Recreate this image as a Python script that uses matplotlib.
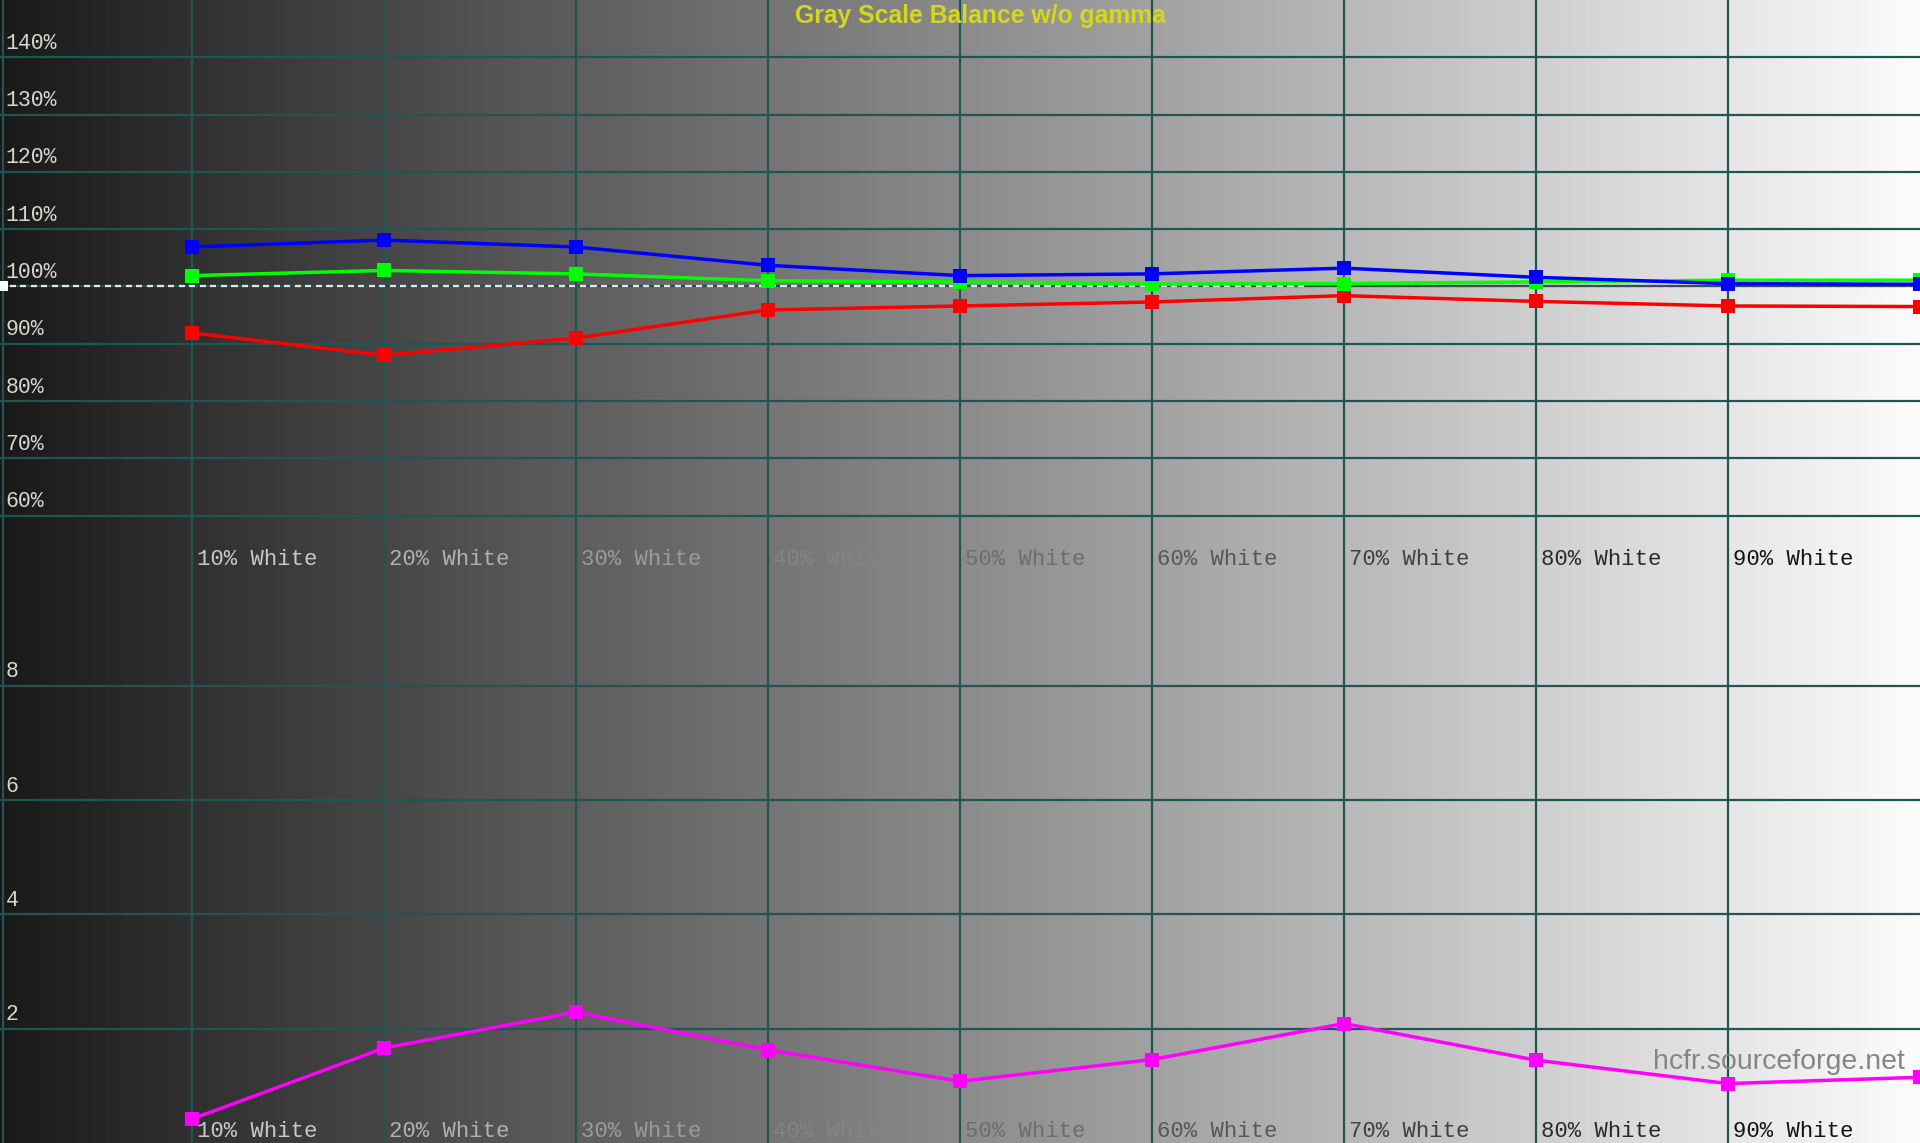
import numpy as np
import matplotlib
matplotlib.use("Agg")
import matplotlib.pyplot as plt
from matplotlib.collections import LineCollection

# ---- data ----
levels = [10, 20, 30, 40, 50, 60, 70, 80, 90, 100]
level_labels = ["10% White", "20% White", "30% White", "40% White", "50% White",
                "60% White", "70% White", "80% White", "90% White"]
label_positions = [10, 20, 30, 40, 50, 60, 70, 80, 90]
red = [91.9, 88.0, 91.0, 95.9, 96.6, 97.3, 98.4, 97.4, 96.6, 96.5]
green = [101.9, 102.8, 102.2, 101.0, 100.8, 100.4, 100.5, 100.8, 101.1, 101.1]
blue = [106.9, 108.1, 106.9, 103.7, 101.9, 102.2, 103.2, 101.6, 100.5, 100.4]
delta_e = [0.42, 1.66, 2.29, 1.63, 1.08, 1.46, 2.09, 1.45, 1.04, 1.15]
top_ticks = [60, 70, 80, 90, 100, 110, 120, 130, 140]
top_tick_labels = ["60%", "70%", "80%", "90%", "100%", "110%", "120%", "130%", "140%"]
bottom_ticks = [2, 4, 6, 8]
bottom_tick_labels = ["2", "4", "6", "8"]
title = "Gray Scale Balance w/o gamma"
watermark = "hcfr.sourceforge.net"

BG0, BG1 = 0.10, 0.985
GRID = "#215454"
MONO = "Liberation Mono"


def bg(x):
    return BG0 + (BG1 - BG0) * (x / 100.0)


def inv(x):
    g = 1.0 - bg(x)
    return (g, g, g)


fig = plt.figure(figsize=(19.2, 11.43), dpi=100)
ax_top = fig.add_axes([0, 0.4987, 1, 0.5013])
ax_bot = fig.add_axes([0, 0, 1, 0.5])

grad = np.linspace(BG0, BG1, 512)[None, :]
for ax, (y0, y1) in ((ax_top, (50, 150)), (ax_bot, (0, 10))):
    ax.imshow(grad, cmap="gray", vmin=0, vmax=1, extent=[0, 100, y0, y1],
              aspect="auto", zorder=0, interpolation="bilinear")
    ax.set_xlim(0, 100)
    ax.set_ylim(y0, y1)
    ax.axis("off")
    for xv in [0] + label_positions:
        ax.axvline(xv + (0.15 if xv == 0 else 0), color=GRID, lw=1.6, zorder=1)

for yv in top_ticks:
    ax_top.axhline(yv, color=GRID, lw=1.6, zorder=1)
for yv in bottom_ticks:
    ax_bot.axhline(yv, color=GRID, lw=1.6, zorder=1)

# dashed 100% reference line (colour flips on light background)
period, dash = 0.55, 0.32
starts = np.arange(0.5, 100, period)
segs = [[(s, 100), (s + dash, 100)] for s in starts]
cols = ["#e6e6e6" if s < 68 else "#4a4a4a" for s in starts]
ax_top.add_collection(LineCollection(segs, colors=cols, linewidths=1.6, zorder=2))
ax_top.plot([0.15], [100], marker="s", color="white", ms=7, mew=0, zorder=6,
            clip_on=True)

# series
lw, ms = 2.5, 10
ax_top.plot(levels, red, color="#ff0000", lw=lw, marker="s", ms=ms, mew=0, zorder=3)
ax_top.plot(levels, green, color="#00ff00", lw=lw, marker="s", ms=ms, mew=0, zorder=4)
ax_top.plot(levels, blue, color="#0000ff", lw=lw, marker="s", ms=ms, mew=0, zorder=5)
ax_bot.plot(levels, delta_e, color="#ff00ff", lw=lw, marker="s", ms=ms, mew=0, zorder=3)

# y labels
for v, t in zip(top_ticks, top_tick_labels):
    ax_top.text(0.3, v + 2.45, t, family=MONO, fontsize=15.5, color="#d8d6cf",
                ha="left", va="center", zorder=7)
for v, t in zip(bottom_ticks, bottom_tick_labels):
    ax_bot.text(0.3, v + 0.245, t, family=MONO, fontsize=15.5, color="#d8d6cf",
                ha="left", va="center", zorder=7)

# x labels
for xv, t in zip(label_positions, level_labels):
    c = inv(xv + 3.2)
    ax_top.text(xv + 0.26, 52.3, t, family=MONO, fontsize=16, color=c,
                ha="left", va="center", zorder=7)
    ax_bot.text(xv + 0.26, 0.2, t, family=MONO, fontsize=16, color=c,
                ha="left", va="center", zorder=7)

fig.text(0.5105, 1 - 16 / 1143, title, family="Liberation Sans", fontweight="bold",
         fontsize=17.8, color="#d6d61a", ha="center", va="center", zorder=10)
fig.text(0.992, 1 - 1062 / 1143, watermark, family="Liberation Sans", fontsize=20.5,
         color="#858585", ha="right", va="center", zorder=10)

fig.savefig("out.png", dpi=100)
